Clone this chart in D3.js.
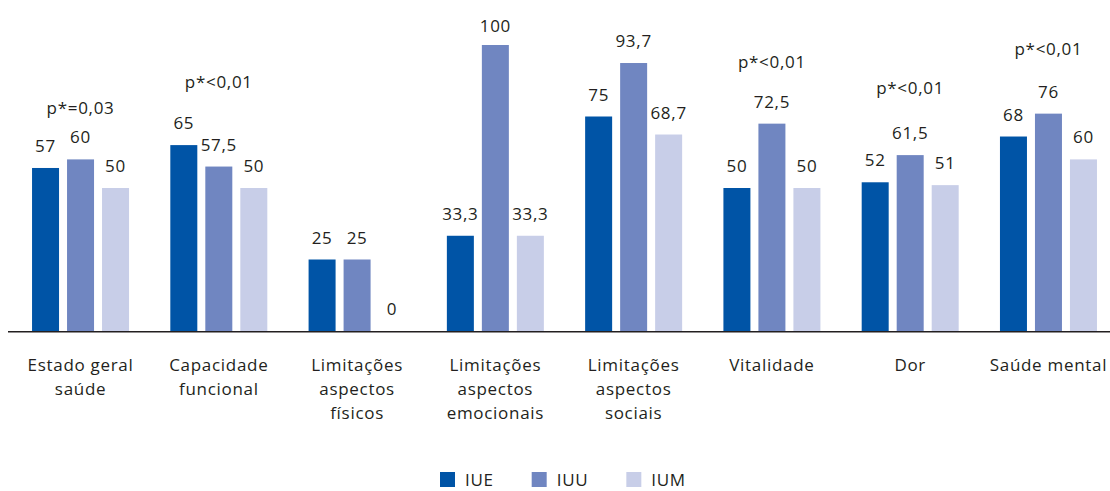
<!DOCTYPE html>
<html>
<head>
<meta charset="utf-8">
<script src="https://cdn.jsdelivr.net/npm/d3@7"></script>
<style>
  body { margin: 0; background: #fff; }
  text { font-family: "Open Sans", sans-serif; fill: #231f20; letter-spacing: 0.7px; }
</style>
</head>
<body>
<div id="chart"></div>
<script>
// ---- DATA ------------------------------------------------------------
var categories = ["Estado geral\nsaúde", "Capacidade\nfuncional", "Limitações\naspectos\nfísicos",
  "Limitações\naspectos\nemocionais", "Limitações\naspectos\nsociais", "Vitalidade", "Dor", "Saúde mental"];
var seriesNames = ["IUE", "IUU", "IUM"];
var iue = [57, 65, 25, 33.3, 75, 50, 52, 68];
var iuu = [60, 57.5, 25, 100, 93.7, 72.5, 61.5, 76];
var ium = [50, 50, 0, 33.3, 68.7, 50, 51, 60];
var pLabels = ["p*=0,03", "p*<0,01", "", "", "", "p*<0,01", "p*<0,01", "p*<0,01"];
var pLevels = [76, 85, null, null, null, 92, 83, 96.5];   // height (value units) of the p label

var colors = ["#0054a6", "#7086c1", "#c8cee8"];

// ---- VARIABLES -------------------------------------------------------
var w = 1110;
var h = 491;
var base = 331;
var fontSize = 17;

var rows = categories.map(function(c, i) {
  return { cat: c, vals: [iue[i], iuu[i], ium[i]], p: pLabels[i], pl: pLevels[i] };
});

// ---- SCALES ----------------------------------------------------------
var xScale = d3.scaleBand()
  .domain(categories)
  .range([11.4, 1117.6])
  .paddingInner(0)
  .paddingOuter(0);

var xInner = d3.scaleBand()
  .domain(seriesNames)
  .range([0, 97])
  .paddingInner(8 / 35)
  .paddingOuter(0);

var yScale = d3.scaleLinear()
  .domain([0, 100])
  .range([base, 45]);

var fmt = function(v) { return String(v).replace(".", ","); };

// ---- BUILD -----------------------------------------------------------
var svg = d3.select("#chart")
  .append("svg")
  .attr("width", w)
  .attr("height", h);

var groups = svg.selectAll(".group")
  .data(rows)
  .enter()
  .append("g")
  .attr("class", "group")
  .attr("transform", function(d) {
    return "translate(" + (xScale(d.cat) + xScale.bandwidth() / 2 - 48.5) + ",0)";
  });

// bars
groups.selectAll("rect")
  .data(function(d) { return d.vals.map(function(v, j) { return { key: seriesNames[j], v: v, j: j }; }); })
  .enter()
  .append("rect")
  .attr("x", function(d) { return xInner(d.key); })
  .attr("width", xInner.bandwidth())
  .attr("y", function(d) { return yScale(d.v); })
  .attr("height", function(d) { return base - yScale(d.v); })
  .attr("fill", function(d) { return colors[d.j]; });

// value labels
groups.selectAll(".label")
  .data(function(d) { return d.vals.map(function(v, j) { return { key: seriesNames[j], v: v }; }); })
  .enter()
  .append("text")
  .attr("class", "label")
  .attr("x", function(d) { return xInner(d.key) + xInner.bandwidth() / 2; })
  .attr("y", function(d) { return Math.max(yScale(d.v) - 16, 32); })
  .attr("text-anchor", "middle")
  .attr("font-size", fontSize + "px")
  .text(function(d) { return fmt(d.v); });

// p-value labels
groups.filter(function(d) { return d.p !== ""; })
  .append("text")
  .attr("class", "pval")
  .attr("x", 48.5)
  .attr("y", function(d) { return yScale(d.pl); })
  .attr("text-anchor", "middle")
  .attr("font-size", fontSize + "px")
  .text(function(d) { return d.p; });

// baseline
svg.append("line")
  .attr("x1", 8)
  .attr("x2", w)
  .attr("y1", base + 0.75)
  .attr("y2", base + 0.75)
  .attr("stroke", "#231f20")
  .attr("stroke-width", 1.5);

// category axis
var xAxis = d3.axisBottom(xScale).tickSize(0).tickPadding(0);
var axisG = svg.append("g")
  .attr("class", "bottomAxis")
  .attr("transform", "translate(0," + base + ")")
  .call(xAxis);
axisG.select(".domain").remove();
axisG.selectAll(".tick text")
  .attr("font-size", fontSize + "px")
  .attr("font-family", "Open Sans, sans-serif")
  .attr("fill", "#231f20")
  .attr("y", 0)
  .attr("dy", null)
  .each(function(d) {
    var t = d3.select(this);
    t.text(null);
    d.split("\n").forEach(function(line, k) {
      t.append("tspan")
        .attr("x", 0)
        .attr("y", 40 + k * 24)
        .text(line);
    });
  });

// legend
var legend = svg.append("g").attr("transform", "translate(440,0)");
var lx = 0;
seriesNames.forEach(function(name, j) {
  var item = legend.append("g").attr("transform", "translate(" + lx + ",0)");
  item.append("rect")
    .attr("x", 0)
    .attr("y", 472)
    .attr("width", 15)
    .attr("height", 15)
    .attr("fill", colors[j]);
  var t = item.append("text")
    .attr("x", 25)
    .attr("y", 486)
    .attr("font-size", fontSize + "px")
    .text(name);
  lx += 25 + t.node().getComputedTextLength() + 38;
});
</script>
</body>
</html>
